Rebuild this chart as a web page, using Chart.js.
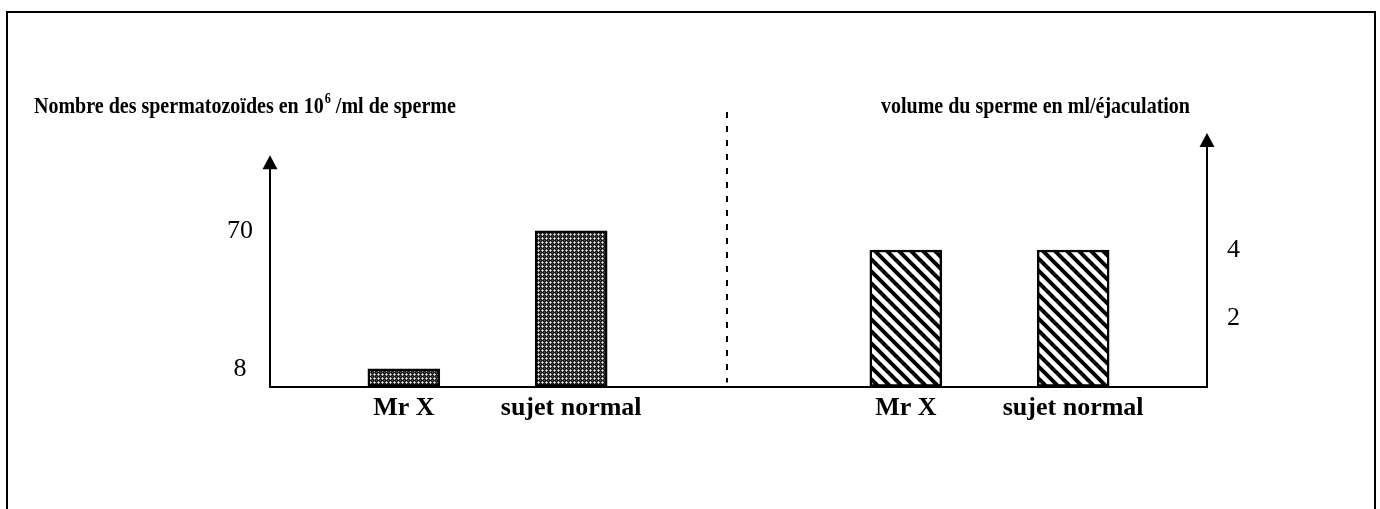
<!DOCTYPE html>
<html>
<head>
<meta charset="utf-8">
<script src="https://cdn.jsdelivr.net/npm/chart.js@4.4.0/dist/chart.umd.min.js"></script>
<style>
  html, body { margin: 0; padding: 0; background: #fff; }
  body { position: relative; width: 1380px; height: 509px; overflow: hidden; }
  #frame { position: absolute; left: 6px; top: 11px; width: 1366px; height: 540px; border: 2px solid #000; border-bottom: none; }
  #myChart { position: absolute; left: 0; top: 0; }
</style>
</head>
<body>
<div id="frame"></div>
<canvas id="myChart" width="1380" height="509"></canvas>
<script>
// data
const categories = ['Mr X', 'sujet normal'];
const spermCount = [8, 70];     // 10^6 / ml
const spermVolume = [4, 4];     // ml / ejaculation
const countTicks = [8, 70];
const volumeTicks = [2, 4];

const serif = '"Liberation Serif", "Times New Roman", serif';

// small dotted crosshatch fill for the left bars
function dotPattern(){
  const c = document.createElement('canvas');
  c.width = 4; c.height = 4;
  const ctx = c.getContext('2d');
  ctx.fillStyle = '#1e1e1e';
  ctx.fillRect(0, 0, 4, 4);
  ctx.fillStyle = '#ababab';
  [[1,2],[3,2],[2,1],[2,3]].forEach(p => ctx.fillRect(p[0], p[1], 1, 1));
  ctx.fillStyle = '#f4f4f4';
  ctx.fillRect(2, 2, 1, 1);
  ctx.fillStyle = '#5a5a5a';
  ctx.fillRect(0, 0, 1, 1);
  return ctx.createPattern(c, 'repeat');
}

// diagonal stripes for the right bars
function stripePattern(){
  const s = 12;
  const c = document.createElement('canvas');
  c.width = s; c.height = s;
  const ctx = c.getContext('2d');
  ctx.fillStyle = '#fff';
  ctx.fillRect(0, 0, s, s);
  ctx.strokeStyle = '#000';
  ctx.lineWidth = 4;
  ctx.beginPath();
  ctx.moveTo(-3, -3); ctx.lineTo(s + 3, s + 3);
  ctx.moveTo(-3, s - 3); ctx.lineTo(3, s + 3);
  ctx.moveTo(s - 3, -3); ctx.lineTo(s + 3, 3);
  ctx.stroke();
  return ctx.createPattern(c, 'repeat');
}

// left group sits at x = 1,2 and right group at x = 4,5
const leftX = categories.map((c, i) => i + 1);
const rightX = categories.map((c, i) => i + 4);
const xLabels = {};
leftX.forEach((x, i) => xLabels[x] = categories[i]);
rightX.forEach((x, i) => xLabels[x] = categories[i]);

const dividerX = 2.93;
const leftAxisTop = 104;

// axis line with a filled arrowhead on top
function arrow(ctx, x, yTop, yBottom){
  ctx.lineWidth = 2;
  ctx.beginPath();
  ctx.moveTo(x, yBottom);
  ctx.lineTo(x, yTop + 12);
  ctx.stroke();
  ctx.beginPath();
  ctx.moveTo(x, yTop);
  ctx.lineTo(x - 7.5, yTop + 14);
  ctx.lineTo(x + 7.5, yTop + 14);
  ctx.closePath();
  ctx.fill();
}

// text squeezed a bit horizontally, like the original figure
function narrowText(ctx, text, x, y, squeeze){
  ctx.save();
  ctx.translate(x, y);
  ctx.scale(squeeze, 1);
  ctx.fillText(text, 0, 0);
  ctx.restore();
  return ctx.measureText(text).width * squeeze;
}

const decor = {
  id: 'decor',
  afterDraw(chart){
    const ctx = chart.ctx;
    const area = chart.chartArea;
    const x = chart.scales.x;
    const yL = chart.scales.yL;
    const sq = 0.87;
    ctx.save();
    ctx.fillStyle = '#000';
    ctx.strokeStyle = '#000';

    // titles
    ctx.textBaseline = 'alphabetic';
    ctx.textAlign = 'left';
    ctx.font = 'bold 23px ' + serif;
    let tx = 34;
    tx += narrowText(ctx, 'Nombre des spermatozoïdes en 10', tx, 113, sq);
    ctx.font = 'bold 14px ' + serif;
    tx += narrowText(ctx, '6', tx + 1, 103, sq) + 1;
    ctx.font = 'bold 23px ' + serif;
    narrowText(ctx, ' /ml de sperme', tx, 113, sq);

    const right = 'volume du sperme en ml/éjaculation';
    const w = ctx.measureText(right).width * sq;
    narrowText(ctx, right, 1190 - w, 113, sq);

    // dashed separator
    const dx = Math.round(x.getPixelForValue(dividerX));
    ctx.lineWidth = 2;
    ctx.setLineDash([6, 8]);
    ctx.beginPath();
    ctx.moveTo(dx, 112);
    ctx.lineTo(dx, area.bottom - 4);
    ctx.stroke();
    ctx.setLineDash([]);

    // vertical axes with arrows
    arrow(ctx, area.left, yL.getPixelForValue(leftAxisTop), area.bottom);
    arrow(ctx, area.right, area.top, area.bottom);
    ctx.restore();
  }
};

const ctx = document.getElementById('myChart');

new Chart(ctx, {
  type: 'bar',
  data: {
    datasets: [{
      label: 'Nombre des spermatozoïdes',
      data: leftX.map((x, i) => ({ x: x, y: spermCount[i] })),
      yAxisID: 'yL',
      backgroundColor: dotPattern(),
      borderColor: '#000',
      borderWidth: 2.5,
      borderSkipped: false,
      barThickness: 72,
      grouped: false
    },
    {
      label: 'volume du sperme',
      data: rightX.map((x, i) => ({ x: x, y: spermVolume[i] })),
      yAxisID: 'yR',
      backgroundColor: stripePattern(),
      borderColor: '#000',
      borderWidth: 2.5,
      borderSkipped: false,
      barThickness: 72,
      grouped: false
    }]
  },
  options: {
    responsive: false,
    animation: false,
    layout: { padding: { left: 200, right: 113, top: 133, bottom: 82.5 } },
    plugins: { legend: { display: false }, tooltip: { enabled: false } },
    scales: {
      x: {
        type: 'linear',
        offset: false,
        min: 0.2,
        max: 5.8,
        afterBuildTicks: s => { s.ticks = leftX.concat(rightX).map(v => ({ value: v })); },
        afterFit: s => { s.height = 40; },
        ticks: {
          callback: v => xLabels[v],
          autoSkip: false,
          maxRotation: 0,
          padding: 6,
          color: '#000',
          font: { family: serif, size: 26, weight: 'bold' }
        },
        grid: { display: false, drawTicks: false, offset: false },
        border: { color: '#000', width: 2 }
      },
      yL: {
        type: 'linear',
        position: 'left',
        min: 0,
        max: 114,
        afterBuildTicks: s => { s.ticks = countTicks.map(v => ({ value: v })); },
        afterFit: s => { s.width = 70; },
        ticks: {
          crossAlign: 'center',
          padding: 17,
          color: '#000',
          font: { family: serif, size: 26 }
        },
        grid: { display: false, drawTicks: false },
        border: { display: false }
      },
      yR: {
        type: 'linear',
        position: 'right',
        min: 0,
        max: 7.43,
        afterBuildTicks: s => { s.ticks = volumeTicks.map(v => ({ value: v })); },
        afterFit: s => { s.width = 60; },
        ticks: {
          padding: 20,
          color: '#000',
          font: { family: serif, size: 26 }
        },
        grid: { display: false, drawTicks: false },
        border: { display: false }
      }
    }
  },
  plugins: [decor]
});
</script>
</body>
</html>
